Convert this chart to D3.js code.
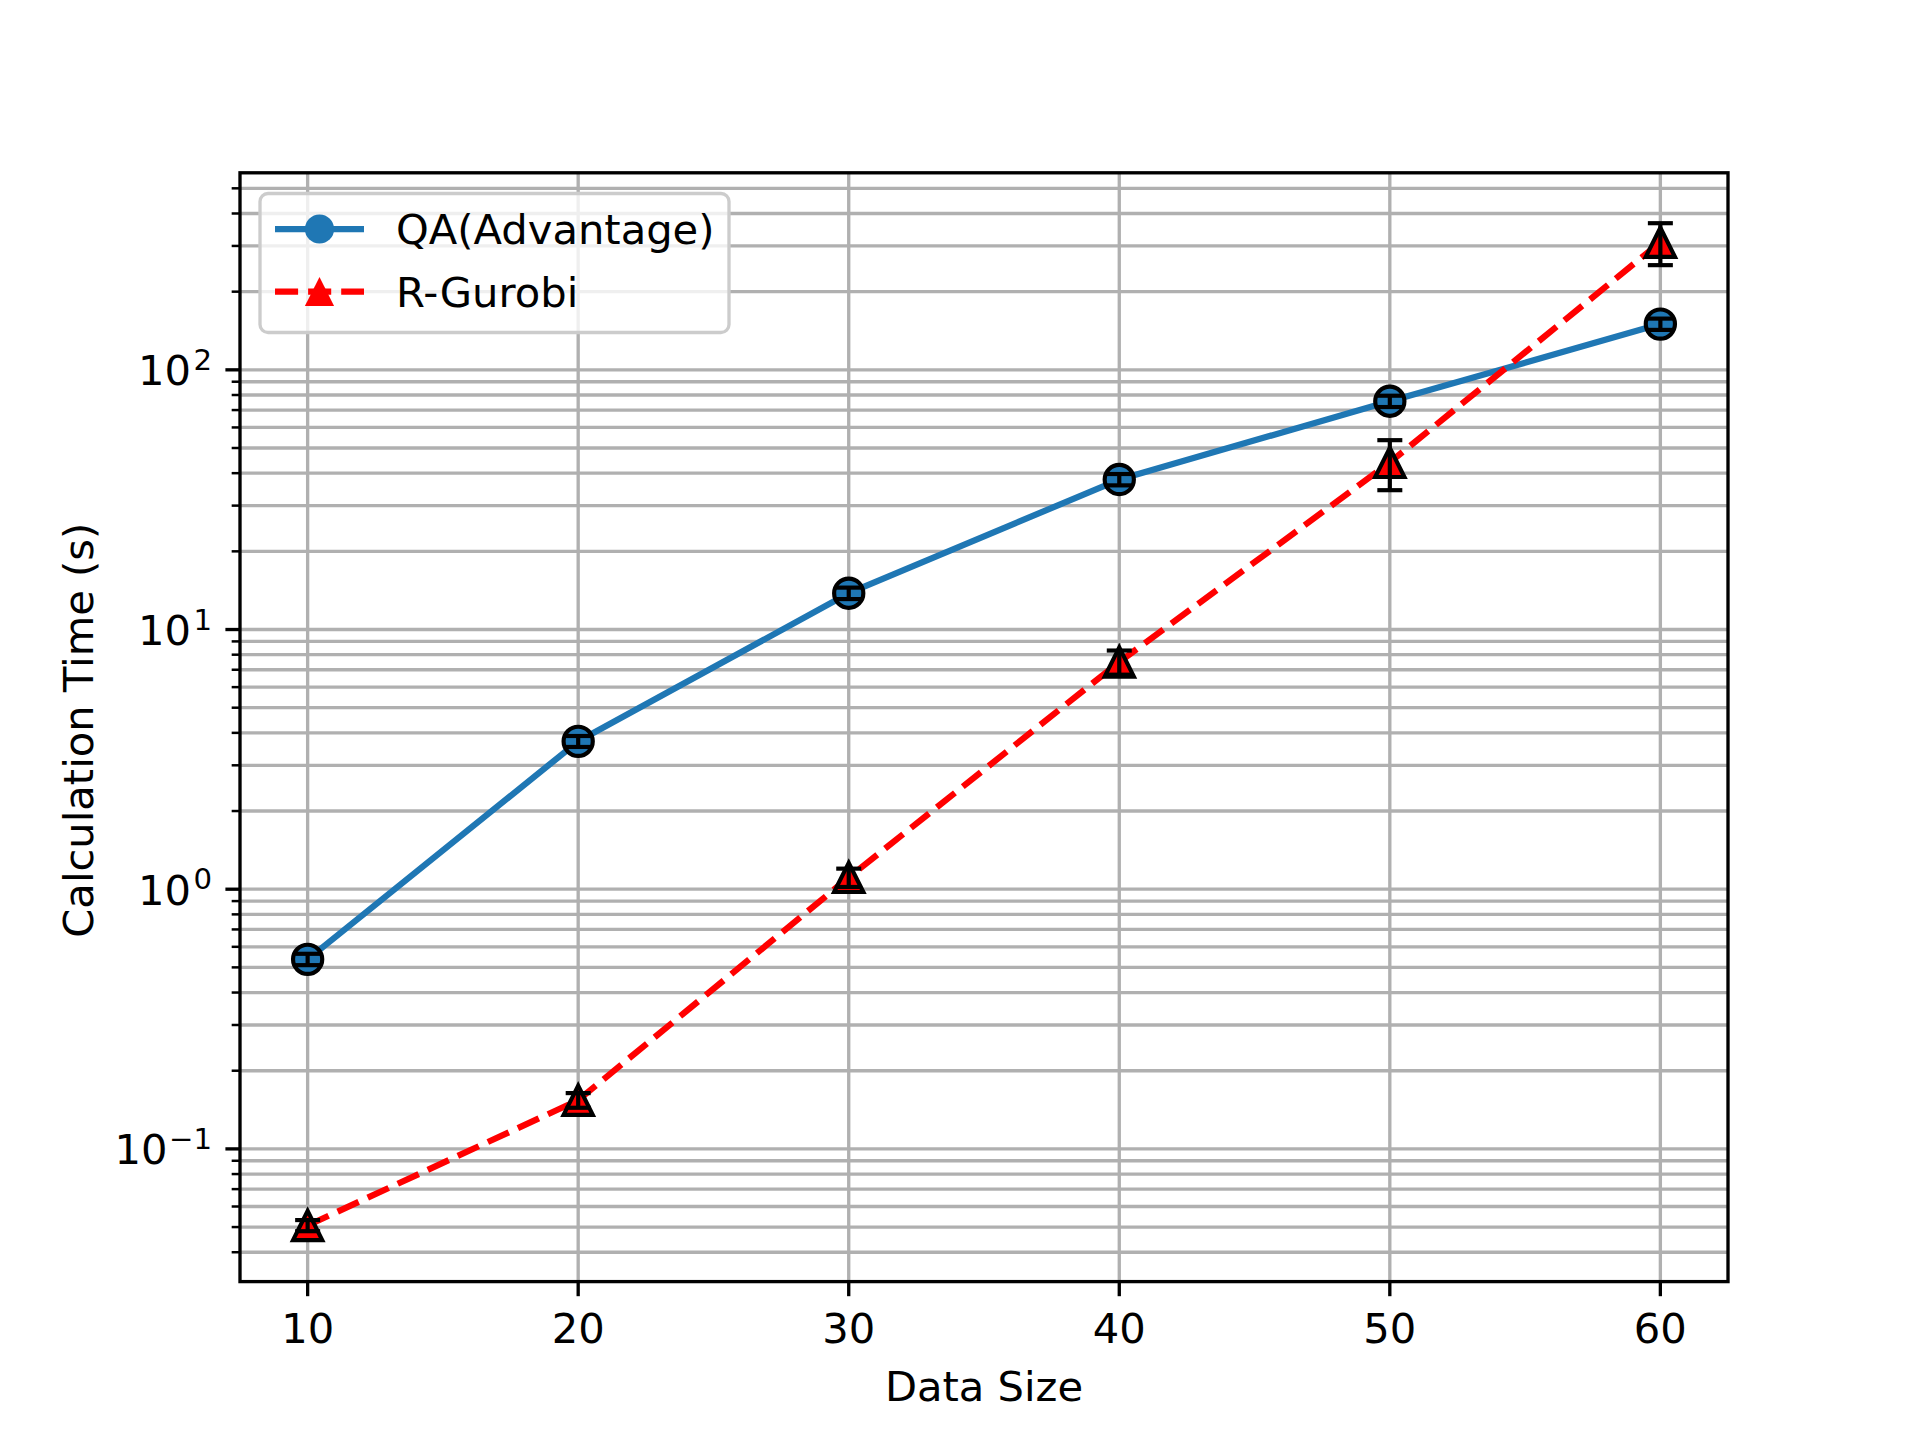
<!DOCTYPE html>
<html>
<head>
<meta charset="utf-8">
<script src="https://cdn.jsdelivr.net/npm/d3@7"></script>
<style>
  html, body { margin: 0; padding: 0; background: #fff; }
  text { font-family: "DejaVu Sans", sans-serif; }
</style>
</head>
<body>
<svg id="chart" width="1920" height="1440"></svg>
<script>
// ---- data ----
const dataSizes = [10, 20, 30, 40, 50, 60];
const qaTime = [0.537, 3.71, 13.8, 37.8, 75.7, 150];
const qaErr = [0.027, 0.18, 0.7, 1.9, 3.8, 7.5];
const gurobiTime = [0.0507, 0.154, 1.11, 7.5, 44, 310];
const gurobiErr = [0.0025, 0.01, 0.09, 0.8, 9.6, 57];
const xTicks = [10, 20, 30, 40, 50, 60];
const yMajorExp = [-1, 0, 1, 2];
const seriesNames = ["QA(Advantage)", "R-Gurobi"];

// ---- layout ----
const W = 1920, H = 1440;
const L = 240, R = 1728, T = 172.8, B = 1281.6;
const FS = 41.67;

const svg = d3.select("#chart");
svg.append("rect").attr("width", W).attr("height", H).attr("fill", "#fff");

// x scale with 5% margins
const xMin = d3.min(dataSizes), xMax = d3.max(dataSizes);
const xPad = (xMax - xMin) * 0.05;
const x = d3.scaleLinear().domain([xMin - xPad, xMax + xPad]).range([L, R]);

// y log scale with 5% margins in log space
const lows = qaTime.map((v, i) => v - qaErr[i]).concat(gurobiTime.map((v, i) => v - gurobiErr[i]));
const highs = qaTime.map((v, i) => v + qaErr[i]).concat(gurobiTime.map((v, i) => v + gurobiErr[i]));
const lMin = Math.log10(d3.min(lows)), lMax = Math.log10(d3.max(highs));
const lPad = (lMax - lMin) * 0.05;
const y = d3.scaleLog().domain([Math.pow(10, lMin - lPad), Math.pow(10, lMax + lPad)]).range([B, T]);

const [yd0, yd1] = y.domain();
const majorVals = yMajorExp.map(e => Math.pow(10, e));
const minorVals = [];
for (let e = -3; e <= 4; e++) {
  for (let m = 2; m <= 9; m++) {
    const v = m * Math.pow(10, e);
    if (v >= yd0 && v <= yd1) minorVals.push(v);
  }
}

const grid = svg.append("g");
minorVals.concat(majorVals).forEach(v => {
  grid.append("line").attr("x1", L).attr("x2", R).attr("y1", y(v)).attr("y2", y(v))
    .attr("stroke", "#b0b0b0").attr("stroke-width", 3.33);
});
xTicks.forEach(v => {
  grid.append("line").attr("x1", x(v)).attr("x2", x(v)).attr("y1", T).attr("y2", B)
    .attr("stroke", "#b0b0b0").attr("stroke-width", 3.33);
});

// series
const series = [
  { name: seriesNames[0], vals: qaTime, err: qaErr, color: "#1f77b4", dash: null, marker: "circle" },
  { name: seriesNames[1], vals: gurobiTime, err: gurobiErr, color: "#ff0000", dash: "23.1,10", marker: "triangle" }
];

const ms = 14.6; // half marker size
function drawMarker(g, type, cx, cy, fill, edge) {
  if (type === "circle") {
    const c = g.append("circle").attr("cx", cx).attr("cy", cy).attr("r", ms).attr("fill", fill);
    if (edge) c.attr("stroke", "#000").attr("stroke-width", 4.17);
  } else {
    const p = g.append("path")
      .attr("d", `M${cx},${cy - ms}L${cx - ms},${cy + ms}L${cx + ms},${cy + ms}Z`)
      .attr("fill", fill);
    if (edge) p.attr("stroke", "#000").attr("stroke-width", 4.17).attr("stroke-linejoin", "miter");
  }
}

const plot = svg.append("g");
series.forEach(s => {
  const line = d3.line().x((d, i) => x(dataSizes[i])).y(d => y(d));
  const p = plot.append("path").datum(s.vals).attr("d", line)
    .attr("fill", "none").attr("stroke", s.color).attr("stroke-width", 6.25)
    .attr("stroke-linejoin", "round");
  if (s.dash) p.attr("stroke-dasharray", s.dash);
  s.vals.forEach((v, i) => drawMarker(plot, s.marker, x(dataSizes[i]), y(v), s.color, true));
  s.vals.forEach((v, i) => {
    const cx = x(dataSizes[i]);
    const y1 = y(v + s.err[i]), y2 = y(v - s.err[i]);
    plot.append("line").attr("x1", cx).attr("x2", cx).attr("y1", y1).attr("y2", y2)
      .attr("stroke", "#000").attr("stroke-width", 4.17);
    [y1, y2].forEach(yy => plot.append("line").attr("x1", cx - 12.5).attr("x2", cx + 12.5)
      .attr("y1", yy).attr("y2", yy).attr("stroke", "#000").attr("stroke-width", 4.17));
  });
});

// spines
svg.append("rect").attr("x", L).attr("y", T).attr("width", R - L).attr("height", B - T)
  .attr("fill", "none").attr("stroke", "#000").attr("stroke-width", 3.33);

// ticks
const axisG = svg.append("g");
xTicks.forEach(v => {
  axisG.append("line").attr("x1", x(v)).attr("x2", x(v)).attr("y1", B).attr("y2", B + 14.6)
    .attr("stroke", "#000").attr("stroke-width", 3.33);
  axisG.append("text").attr("x", x(v)).attr("y", B + 61).attr("text-anchor", "middle")
    .attr("font-size", FS).attr("fill", "#000").text(d3.format("d")(v));
});
minorVals.forEach(v => {
  axisG.append("line").attr("x1", L - 8.33).attr("x2", L).attr("y1", y(v)).attr("y2", y(v))
    .attr("stroke", "#000").attr("stroke-width", 2.5);
});
yMajorExp.forEach(e => {
  const v = Math.pow(10, e);
  const yy = y(v);
  axisG.append("line").attr("x1", L - 14.6).attr("x2", L).attr("y1", yy).attr("y2", yy)
    .attr("stroke", "#000").attr("stroke-width", 3.33);
  const sup = axisG.append("text").attr("x", L - 28).attr("y", yy)
    .attr("text-anchor", "end").attr("font-size", 29.2).attr("fill", "#000")
    .text(String(e).replace("-", "\u2212"));
  const supW = sup.node().getComputedTextLength();
  const gap = e < 0 ? 1.5 : 2.5;
  axisG.append("text").attr("x", L - 28 - supW - gap).attr("y", yy + 15.5)
    .attr("text-anchor", "end").attr("font-size", FS).attr("fill", "#000").text("10");
});

// axis labels
svg.append("text").attr("x", (L + R) / 2).attr("y", 1401).attr("text-anchor", "middle")
  .attr("font-size", FS).attr("fill", "#000").text("Data Size");
svg.append("text").attr("transform", `translate(93,${(T + B) / 2 + 3}) rotate(-90)`)
  .attr("text-anchor", "middle").attr("font-size", FS).attr("fill", "#000")
  .text("Calculation Time (s)");

// legend
const lg = svg.append("g");
lg.append("rect").attr("x", 260).attr("y", 193.5).attr("width", 469).attr("height", 139)
  .attr("rx", 8).attr("fill", "#fff").attr("fill-opacity", 0.8)
  .attr("stroke", "#cccccc").attr("stroke-width", 3.33);
series.forEach((s, i) => {
  const cy = 229 + i * 62.5;
  const ln = lg.append("line").attr("x1", 275).attr("x2", 364).attr("y1", cy).attr("y2", cy)
    .attr("stroke", s.color).attr("stroke-width", 6.25);
  if (s.dash) ln.attr("stroke-dasharray", s.dash);
  drawMarker(lg, s.marker, 319.5, cy, s.color, false);
  lg.append("text").attr("x", 396).attr("y", cy + 15).attr("font-size", FS).attr("fill", "#000")
    .text(s.name);
});
</script>
</body>
</html>
